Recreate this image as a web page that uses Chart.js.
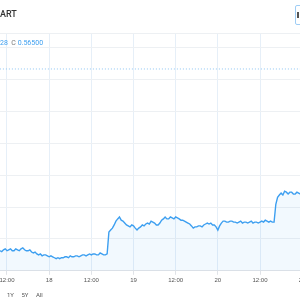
<!DOCTYPE html>
<html>
<head>
<meta charset="utf-8">
<script src="https://cdn.jsdelivr.net/npm/chart.js@4"></script>
<style>
  html, body { margin: 0; padding: 0; width: 300px; height: 300px; overflow: hidden; background: #fff; font-family: Roboto, "Noto Sans", sans-serif; }
  #wrap { position: absolute; left: -20px; top: 0; width: 340px; height: 300px; }
  .title { position: absolute; left: 0; top: 9px; font-size: 9px; color: #333; font-weight: 500; }
  .ohlc { position: absolute; left: 0; top: 39px; font-size: 7px; color: #777; }
  .ohlc .v { color: #3d9ff0; }
  .btn { position: absolute; left: 295px; top: 5px; width: 18px; height: 18px; border: 1px solid #9fcdf5; border-radius: 2px; }
  .btn i { position: absolute; left: 1px; top: 6px; width: 2px; height: 6px; background: #555; }
  .ranges { position: absolute; left: 7px; top: 291px; font-size: 6px; color: #555; word-spacing: 6px; }
</style>
</head>
<body>
<div id="wrap"><canvas id="priceChart" width="340" height="300"></canvas></div>
<div class="title">ART</div>
<div class="ohlc"><span class="v">28</span>&nbsp;&nbsp;C <span class="v">0.56500</span></div>
<div class="btn"><i></i></div>
<div class="ranges">1Y 5Y All</div>
<script>
// half-hour prices, first one at hour 9 of day 17
const startHour = 9;
const stepHour = 0.5;
const prices = [
  0.5063, 0.5066, 0.5063, 0.5060, 0.5066, 0.5069, 0.5063, 0.5066, 0.5069, 0.5063,
  0.5063, 0.5069, 0.5066, 0.5063, 0.5069, 0.5072, 0.5066, 0.5063, 0.5063, 0.5066,
  0.5059, 0.5056, 0.5059, 0.5053, 0.5050, 0.5053, 0.5047, 0.5050, 0.5050, 0.5047,
  0.5044, 0.5047, 0.5044, 0.5041, 0.5038, 0.5041, 0.5038, 0.5041, 0.5041, 0.5044,
  0.5044, 0.5041, 0.5047, 0.5044, 0.5044, 0.5047, 0.5047, 0.5044, 0.5047, 0.5050,
  0.5050, 0.5047, 0.5050, 0.5053, 0.5050, 0.5053, 0.5053, 0.5050, 0.5050, 0.5056,
  0.5053, 0.5050, 0.5050, 0.5053, 0.5122, 0.5128, 0.5134, 0.5144, 0.5156, 0.5163,
  0.5169, 0.5159, 0.5156, 0.5150, 0.5144, 0.5141, 0.5138, 0.5144, 0.5141, 0.5134,
  0.5128, 0.5134, 0.5138, 0.5144, 0.5141, 0.5147, 0.5150, 0.5147, 0.5156, 0.5153,
  0.5150, 0.5144, 0.5144, 0.5150, 0.5159, 0.5163, 0.5169, 0.5163, 0.5163, 0.5169,
  0.5166, 0.5163, 0.5169, 0.5166, 0.5163, 0.5159, 0.5159, 0.5156, 0.5153, 0.5150,
  0.5147, 0.5141, 0.5134, 0.5138, 0.5138, 0.5141, 0.5141, 0.5138, 0.5144, 0.5147,
  0.5150, 0.5147, 0.5150, 0.5144, 0.5144, 0.5138, 0.5128, 0.5141, 0.5150, 0.5156,
  0.5156, 0.5153, 0.5153, 0.5156, 0.5156, 0.5153, 0.5153, 0.5150, 0.5153, 0.5156,
  0.5150, 0.5153, 0.5153, 0.5150, 0.5153, 0.5156, 0.5150, 0.5153, 0.5153, 0.5150,
  0.5153, 0.5156, 0.5153, 0.5159, 0.5156, 0.5153, 0.5156, 0.5153, 0.5153, 0.5209,
  0.5231, 0.5238, 0.5244, 0.5238, 0.5250, 0.5247, 0.5241, 0.5247, 0.5247, 0.5241,
  0.5241, 0.5247, 0.5244, 0.5241, 0.5241,
];
const prevClose = 0.5634;
const xTicks = [12, 24, 36, 48, 60, 72, 84, 96];
const xTickLabels = ['12:00', '18', '12:00', '19', '12:00', '20', '12:00', '21'];
const yTicks = [0.50, 0.51, 0.52, 0.53, 0.54, 0.55, 0.56, 0.57, 0.5747];

const ctx = document.getElementById('priceChart').getContext('2d');

new Chart(ctx, {
  type: 'line',
  data: {
    datasets: [{
      data: prices.map((p, i) => ({ x: startHour + i * stepHour, y: p })),
      borderColor: '#3d9ff0',
      borderWidth: 1.4,
      backgroundColor: 'rgba(33, 150, 243, 0.06)',
      fill: 'start',
      pointRadius: 0,
      tension: 0,
    }, {
      data: [{ x: 4, y: prevClose }, { x: 102, y: prevClose }],
      borderColor: '#8ec4f2',
      borderWidth: 1,
      borderDash: [1, 2],
      pointRadius: 0,
      fill: false,
    }],
  },
  options: {
    responsive: false,
    animation: false,
    layout: { padding: { top: 33, left: 0, right: 0, bottom: 14 } },
    plugins: { legend: { display: false }, tooltip: { enabled: false } },
    scales: {
      x: {
        type: 'linear',
        min: 4.32,
        max: 101.07,
        afterBuildTicks: (scale) => { scale.ticks = xTicks.map(v => ({ value: v })); },
        ticks: {
          autoSkip: false,
          maxRotation: 0,
          padding: 2,
          color: '#555',
          font: { size: 6 },
          callback: (value) => xTickLabels[xTicks.indexOf(value)],
        },
        grid: { color: '#e6eff8', tickLength: 4, tickColor: '#e0e3e8' },
        border: { color: '#e0e3e8' },
      },
      y: {
        position: 'right',
        min: 0.50,
        max: 0.5747,
        afterBuildTicks: (scale) => { scale.ticks = yTicks.map(v => ({ value: v })); },
        ticks: { display: false },
        grid: { color: '#edf0f3', drawTicks: false },
        border: { display: false },
      },
    },
  },
});
</script>
</body>
</html>
